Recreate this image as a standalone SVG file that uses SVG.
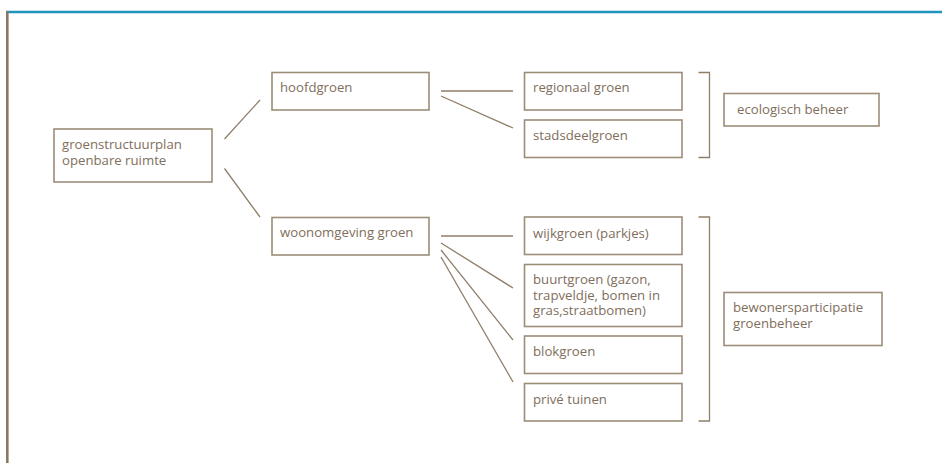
<svg xmlns="http://www.w3.org/2000/svg" width="942" height="463" viewBox="0 0 942 463">
  <style>
    .box rect { fill: #ffffff; stroke: #9c8c78; stroke-width: 1.6; }
    .box text { font-family: "Open Sans", "Noto Sans", "Liberation Sans", sans-serif; font-size: 13.2px; fill: #7f6e5b; }
    .conn line, .conn path { stroke: #8f7e69; stroke-width: 1.3; fill: none; }
    .frame-top { stroke: #1f95be; stroke-width: 2.6; }
    .frame-left { stroke: #8c7862; stroke-width: 2.6; }
  </style>

  <!-- page frame -->
  <line class="frame-top" x1="6" y1="12" x2="942" y2="12"/>
  <line class="frame-left" x1="7.3" y1="11" x2="7.3" y2="463"/>

  <!-- connectors -->
  <g id="connectors" class="conn">
    <line x1="224.5" y1="139" x2="260" y2="100"/>
    <line x1="224.5" y1="168.5" x2="260" y2="217"/>
    <line x1="441" y1="91" x2="513" y2="91"/>
    <line x1="441" y1="96" x2="513" y2="128"/>
    <line x1="441" y1="236" x2="513" y2="236"/>
    <line x1="441" y1="243" x2="513" y2="288"/>
    <line x1="441" y1="250" x2="513" y2="340"/>
    <line x1="441" y1="257" x2="513" y2="382"/>
    <path d="M698.5,72.5 H709.5 V157.5 H698.5"/>
    <path d="M698.5,217 H709.5 V421 H698.5"/>
  </g>

  <g id="root" class="box">
    <rect x="54" y="129" width="158" height="53"/>
    <text x="62" y="149">groenstructuurplan</text>
    <text x="62" y="165">openbare ruimte</text>
  </g>

  <g id="hoofdgroen" class="box">
    <rect x="272" y="72.5" width="157" height="37.5"/>
    <text x="280" y="92">hoofdgroen</text>
  </g>

  <g id="woonomgeving" class="box">
    <rect x="272" y="217.5" width="157" height="37.5"/>
    <text x="280" y="237">woonomgeving groen</text>
  </g>

  <g id="regionaal" class="box">
    <rect x="524.5" y="72.5" width="157.5" height="37.5"/>
    <text x="533" y="92">regionaal groen</text>
  </g>

  <g id="stadsdeel" class="box">
    <rect x="524.5" y="120" width="157.5" height="37.5"/>
    <text x="533" y="140">stadsdeelgroen</text>
  </g>

  <g id="ecologisch" class="box">
    <rect x="724" y="93.5" width="155" height="32.5"/>
    <text x="737" y="113.5">ecologisch beheer</text>
  </g>

  <g id="wijkgroen" class="box">
    <rect x="524.5" y="217" width="157.5" height="37.5"/>
    <text x="533" y="238">wijkgroen (parkjes)</text>
  </g>

  <g id="buurtgroen" class="box">
    <rect x="524.5" y="264.5" width="157.5" height="62"/>
    <text x="533" y="283.5">buurtgroen (gazon,</text>
    <text x="533" y="299.5">trapveldje, bomen in</text>
    <text x="533" y="315">gras,straatbomen)</text>
  </g>

  <g id="blokgroen" class="box">
    <rect x="524.5" y="336" width="157.5" height="37.5"/>
    <text x="533" y="355.5">blokgroen</text>
  </g>

  <g id="prive" class="box">
    <rect x="524.5" y="383.5" width="157.5" height="37.5"/>
    <text x="533" y="403.5">privé tuinen</text>
  </g>

  <g id="bewoners" class="box">
    <rect x="724" y="292.5" width="158" height="53"/>
    <text x="733" y="312">bewonersparticipatie</text>
    <text x="733" y="328">groenbeheer</text>
  </g>
</svg>
